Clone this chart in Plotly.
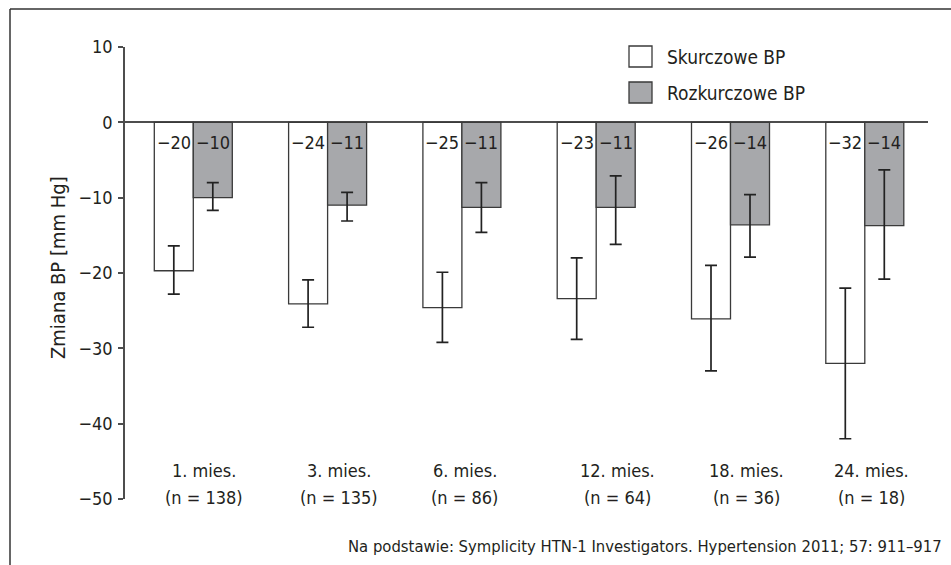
import plotly.graph_objects as go

# ---------------- data ----------------
categories = ["1. mies.", "3. mies.", "6. mies.", "12. mies.", "18. mies.", "24. mies."]
n_labels = ["(n = 138)", "(n = 135)", "(n = 86)", "(n = 64)", "(n = 36)", "(n = 18)"]

sys_mean = [-19.7, -24.1, -24.6, -23.4, -26.1, -32.0]
sys_err_up = [3.3, 3.2, 4.7, 5.4, 7.1, 10.0]
sys_err_down = [3.1, 3.1, 4.6, 5.4, 6.9, 10.0]
sys_labels = ["−20", "−24", "−25", "−23", "−26", "−32"]

dia_mean = [-10.0, -11.0, -11.3, -11.3, -13.6, -13.7]
dia_err_up = [2.0, 1.7, 3.3, 4.2, 4.0, 7.4]
dia_err_down = [1.7, 2.1, 3.3, 4.9, 4.3, 7.1]
dia_labels = ["−10", "−11", "−11", "−11", "−14", "−14"]

series_names = ["Skurczowe BP", "Rozkurczowe BP"]
y_ticks = [10, 0, -10, -20, -30, -40, -50]
source_text = "Na podstawie: Symplicity HTN-1 Investigators. Hypertension 2011; 57: 911–917"

# ---------------- layout geometry (pixels) ----------------
W, H = 951, 565
L, R, T, B = 125, 23, 47, 66
PW, PH = W - L - R, H - T - B
PITCH = 134.3          # px per category
X0PX = 193.3           # px of first category centre


def px(xp):
    return (xp - L) / PW


def py(yp):
    return (H - B - yp) / PH


FONT = "'Liberation Sans Narrow', 'DejaVu Sans Condensed', 'Roboto Condensed', 'Arial Narrow', sans-serif"
TXT = "#231f20"
LINE = "#4d4d4d"
GRAY = "#a7a8ab"

xs = list(range(len(categories)))
bw = 39 / PITCH

fig = go.Figure()
fig.add_trace(go.Bar(
    x=xs, y=sys_mean, name=series_names[0], offset=-bw, width=bw,
    marker=dict(color="white", line=dict(color="#3a3a3a", width=1.3)),
    error_y=dict(type="data", symmetric=False, array=sys_err_up, arrayminus=sys_err_down,
                 color="#222", thickness=1.7, width=6),
    showlegend=False, hoverinfo="skip",
))
fig.add_trace(go.Bar(
    x=xs, y=dia_mean, name=series_names[1], offset=0, width=bw,
    marker=dict(color=GRAY, line=dict(color="#3a3a3a", width=1.3)),
    error_y=dict(type="data", symmetric=False, array=dia_err_up, arrayminus=dia_err_down,
                 color="#222", thickness=1.7, width=6),
    showlegend=False, hoverinfo="skip",
))

x_range = [-(X0PX - L) / PITCH, (W - R - X0PX) / PITCH]

fig.update_layout(
    width=W, height=H,
    margin=dict(l=L, r=R, t=T, b=B, pad=0),
    paper_bgcolor="white", plot_bgcolor="white",
    barmode="overlay",
    font=dict(family=FONT, size=18, color=TXT),
    xaxis=dict(range=x_range, visible=False, fixedrange=True),
    yaxis=dict(
        range=[-50, 10], tickvals=y_ticks, ticks="outside", ticklen=5, tickwidth=1.5,
        tickcolor=LINE, showline=True, linecolor=LINE, linewidth=1.5, showgrid=False,
        zeroline=True, zerolinecolor=LINE, zerolinewidth=1.6,
        tickfont=dict(family=FONT, size=18, color=TXT), ticklabelstandoff=2,
        fixedrange=True,
    ),
)

# value labels at the top of each bar
label_y = (123 - 143) / (PH / 60)
for i in xs:
    fig.add_annotation(x=xs[i] - bw / 2, y=label_y, text=sys_labels[i], showarrow=False,
                       xanchor="center", yanchor="middle", font=dict(size=18))
    fig.add_annotation(x=xs[i] + bw / 2, y=label_y, text=dia_labels[i], showarrow=False,
                       xanchor="center", yanchor="middle", font=dict(size=18))

# category labels
label_shift = [11, 11, 3, 21, 16, 7]  # px
for i, (c, n) in enumerate(zip(categories, n_labels)):
    xc = xs[i] + label_shift[i] / PITCH
    fig.add_annotation(x=xc, y=py(470), yref="paper", text=c, showarrow=False,
                       xanchor="center", yanchor="middle", font=dict(size=18))
    fig.add_annotation(x=xc, y=py(497), yref="paper", text=n, showarrow=False,
                       xanchor="center", yanchor="middle", font=dict(size=18))

# y axis title
fig.add_annotation(xref="paper", yref="paper", x=px(58), y=py(268), text="Zmiana BP [mm Hg]",
                   textangle=-90, showarrow=False, xanchor="center", yanchor="middle",
                   font=dict(size=20))

# legend (drawn manually)
legend_rows = [(46, 67, "white"), (82, 103, GRAY)]
for (ya, yb, col), name in zip(legend_rows, series_names):
    fig.add_shape(type="rect", xref="paper", yref="paper", x0=px(629), x1=px(652),
                  y0=py(yb), y1=py(ya), fillcolor=col, line=dict(color="#3a3a3a", width=1.3))
    fig.add_annotation(xref="paper", yref="paper", x=px(665), y=py((ya + yb) / 2), text=name,
                       showarrow=False, xanchor="left", yanchor="middle", font=dict(size=19))

# source
fig.add_annotation(xref="paper", yref="paper", x=px(944), y=py(546), text=source_text,
                   showarrow=False, xanchor="right", yanchor="middle", font=dict(size=16.5))

# outer frame (top and left edges visible)
fig.add_shape(type="line", xref="paper", yref="paper", x0=px(10), x1=px(951), y0=py(9), y1=py(9),
              line=dict(color="#333", width=1.5))
fig.add_shape(type="line", xref="paper", yref="paper", x0=px(10), x1=px(10), y0=py(9), y1=py(566),
              line=dict(color="#333", width=1.5))

fig.write_html("out.html", config={"displayModeBar": False},
               post_script="document.body.style.margin='0';document.body.style.overflow='hidden';")
